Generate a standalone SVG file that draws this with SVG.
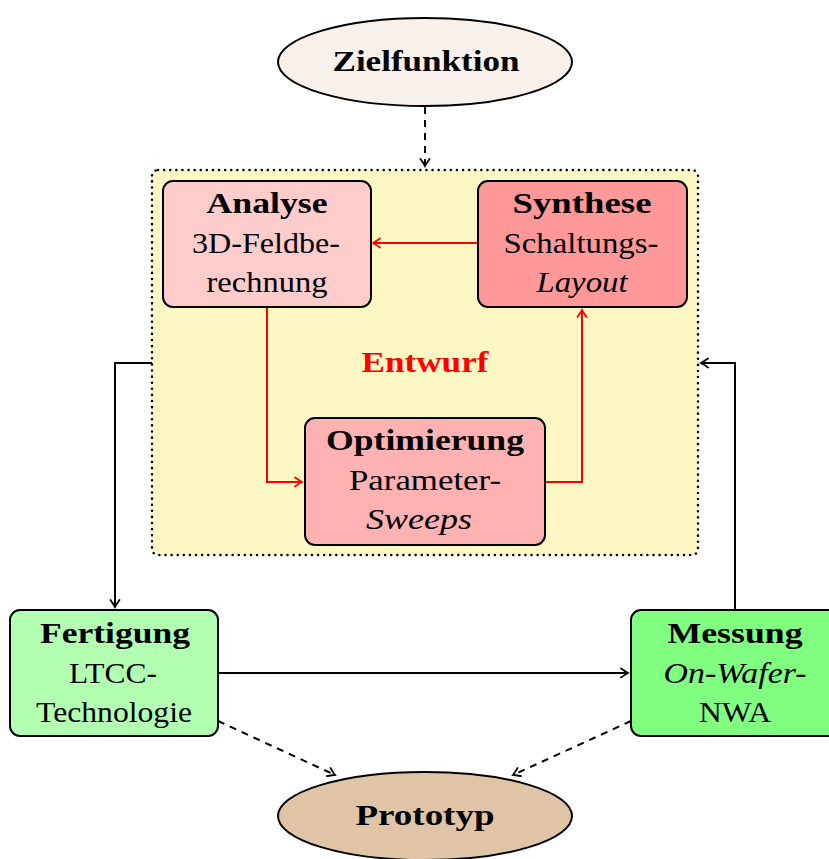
<svg xmlns="http://www.w3.org/2000/svg" width="829" height="859" viewBox="0 0 829 859">
  <style>
    text { font-family: "Liberation Serif", "DejaVu Serif", serif; font-size: 29px; fill: #000; text-anchor: middle; }
    .b { font-weight: bold; }
    .i { font-style: italic; }
    .node { stroke: #000; stroke-width: 2; }
    .wire { fill: none; stroke: #000; stroke-width: 2; }
    .red { fill: none; stroke: #ff0000; stroke-width: 2; }
    .dash { stroke-dasharray: 7 6; }
  </style>
  <defs>
    <marker id="ah" viewBox="-10 -6 12 12" refX="0" refY="0" markerWidth="12" markerHeight="12" markerUnits="userSpaceOnUse" orient="auto">
      <path d="M -7 -4.5 Q -2 -1 0 0 Q -2 1 -7 4.5" fill="none" stroke="#000" stroke-width="1.8" stroke-linecap="round"/>
    </marker>
    <marker id="ahr" viewBox="-10 -6 12 12" refX="0" refY="0" markerWidth="12" markerHeight="12" markerUnits="userSpaceOnUse" orient="auto">
      <path d="M -7 -4.5 Q -2 -1 0 0 Q -2 1 -7 4.5" fill="none" stroke="#ff0000" stroke-width="1.8" stroke-linecap="round"/>
    </marker>
  </defs>

  <rect width="829" height="859" fill="#fff"/>

  <!-- design group background -->
  <g id="entwurf">
    <rect x="152" y="170" width="546" height="385" rx="6" fill="#fdf8c3" stroke="#000" stroke-width="2.5" stroke-dasharray="0.1 6" stroke-linecap="round"/>
    <text x="425" y="372" class="b" style="fill:#ff0000" textLength="127" lengthAdjust="spacingAndGlyphs">Entwurf</text>
  </g>

  <g id="connectors">
    <line class="wire dash" x1="425" y1="107" x2="425" y2="166" marker-end="url(#ah)"/>
    <line class="red" x1="478" y1="243" x2="373" y2="243" marker-end="url(#ahr)"/>
    <polyline class="red" points="267,307 267,482 302,482" marker-end="url(#ahr)"/>
    <polyline class="red" points="545,482 582,482 582,310" marker-end="url(#ahr)"/>
    <polyline class="wire" points="152,363 115,363 115,607" marker-end="url(#ah)"/>
    <polyline class="wire" points="735,610 735,363 701,363" marker-end="url(#ah)"/>
    <line class="wire" x1="218" y1="673" x2="628" y2="673" marker-end="url(#ah)"/>
    <line class="wire dash" x1="218" y1="721" x2="335" y2="775" marker-end="url(#ah)"/>
    <line class="wire dash" x1="631" y1="721" x2="513" y2="775" marker-end="url(#ah)"/>
  </g>

  <g id="zielfunktion">
    <ellipse class="node" cx="425" cy="62" rx="147" ry="44" fill="#f7f0eb"/>
    <text x="426" y="71" class="b" textLength="187" lengthAdjust="spacingAndGlyphs">Zielfunktion</text>
  </g>

  <g id="analyse">
    <rect class="node" x="163" y="181" width="208" height="126" rx="10" fill="#ffcccc"/>
    <text x="267" y="213" class="b" textLength="121" lengthAdjust="spacingAndGlyphs">Analyse</text>
    <text x="266" y="253" textLength="148" lengthAdjust="spacingAndGlyphs">3D-Feldbe-</text>
    <text x="267" y="292" textLength="121" lengthAdjust="spacingAndGlyphs">rechnung</text>
  </g>

  <g id="synthese">
    <rect class="node" x="478" y="181" width="209" height="126" rx="10" fill="#ff9999"/>
    <text x="582" y="213" class="b" textLength="139" lengthAdjust="spacingAndGlyphs">Synthese</text>
    <text x="581" y="253" textLength="155" lengthAdjust="spacingAndGlyphs">Schaltungs-</text>
    <text x="582" y="292" class="i" textLength="91" lengthAdjust="spacingAndGlyphs">Layout</text>
  </g>

  <g id="optimierung">
    <rect class="node" x="305" y="418" width="240" height="127" rx="10" fill="#ffb2b2"/>
    <text x="425" y="450" class="b" textLength="198" lengthAdjust="spacingAndGlyphs">Optimierung</text>
    <text x="425" y="490" textLength="152" lengthAdjust="spacingAndGlyphs">Parameter-</text>
    <text x="419" y="529" class="i" textLength="106" lengthAdjust="spacingAndGlyphs">Sweeps</text>
  </g>

  <g id="fertigung">
    <rect class="node" x="10" y="610" width="208" height="126" rx="10" fill="#b2ffb2"/>
    <text x="115" y="643" class="b" textLength="150" lengthAdjust="spacingAndGlyphs">Fertigung</text>
    <text x="113" y="683" textLength="88" lengthAdjust="spacingAndGlyphs">LTCC-</text>
    <text x="114" y="722" textLength="156" lengthAdjust="spacingAndGlyphs">Technologie</text>
  </g>

  <g id="messung">
    <rect class="node" x="631" y="610" width="208" height="126" rx="10" fill="#80ff80"/>
    <text x="735" y="643" class="b" textLength="135" lengthAdjust="spacingAndGlyphs">Messung</text>
    <text x="735" y="683" class="i" textLength="143" lengthAdjust="spacingAndGlyphs">On-Wafer-</text>
    <text x="735" y="722" textLength="72" lengthAdjust="spacingAndGlyphs">NWA</text>
  </g>

  <g id="prototyp">
    <ellipse class="node" cx="425" cy="816" rx="147" ry="44" fill="#dfc5a6"/>
    <text x="425" y="825" class="b" textLength="139" lengthAdjust="spacingAndGlyphs">Prototyp</text>
  </g>
</svg>
